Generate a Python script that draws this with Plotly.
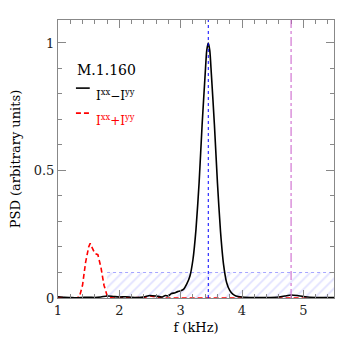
import plotly.graph_objects as go

# data
f_diff = [1.0, 1.1, 1.2, 1.3, 1.4, 1.5, 1.6, 1.7, 1.8, 1.9, 2.0, 2.1, 2.2, 2.3, 2.4, 2.5,
          2.6, 2.7, 2.75, 2.8, 2.85, 2.9, 2.95, 3.0, 3.05, 3.1, 3.15, 3.2, 3.25, 3.3,
          3.35, 3.4, 3.425, 3.45, 3.475, 3.5, 3.55, 3.6, 3.65, 3.7, 3.75, 3.8, 3.85, 3.9,
          4.0, 4.2, 4.4, 4.6, 4.7, 4.8, 4.9, 5.0, 5.2, 5.4, 5.5]
psd_diff = [0.005, 0.003, 0.002, 0.001, 0.002, 0.003, 0.002, 0.004, 0.008, 0.006, 0.004,
            0.005, 0.003, 0.002, 0.004, 0.010, 0.008, 0.004, 0.010, 0.008, 0.018, 0.020,
            0.025, 0.028, 0.035, 0.055, 0.085, 0.15, 0.27, 0.45, 0.68, 0.88, 0.97, 1.0,
            0.97, 0.88, 0.68, 0.45, 0.26, 0.13, 0.06, 0.03, 0.015, 0.008, 0.004, 0.002,
            0.002, 0.004, 0.008, 0.012, 0.010, 0.006, 0.002, 0.002, 0.002]

f_sum = [1.0, 1.1, 1.2, 1.3, 1.35, 1.4, 1.45, 1.5, 1.525, 1.55, 1.6, 1.65, 1.7, 1.75,
         1.8, 1.85, 1.9, 2.0, 2.4, 2.5, 2.6, 2.7, 3.0, 4.0, 5.0, 5.5]
psd_sum = [0.002, 0.001, 0.0, 0.0, 0.005, 0.05, 0.14, 0.20, 0.214, 0.20, 0.175, 0.17,
           0.12, 0.05, 0.01, 0.002, 0.0, 0.0, 0.002, 0.008, 0.003, 0.0, 0.0, 0.0, 0.0, 0.0]

band_f = [1.8, 5.5]      # hatched noise band
band_level = 0.1
f_peak = 3.45            # blue dotted line
f_mark = 4.8             # magenta dash-dot line

label = "M.1.160"
name_diff = "I<sup>xx</sup>\u2212I<sup>yy</sup>"
name_sum = "I<sup>xx</sup>+I<sup>yy</sup>"

FONT = "DejaVu Serif"
GREY = "#888888"

fig = go.Figure()

# hatched band
fig.add_trace(go.Scatter(
    x=[band_f[0], band_f[1], band_f[1], band_f[0], band_f[0]],
    y=[0, 0, band_level, band_level, 0],
    mode="lines", fill="toself", line=dict(width=0),
    fillcolor="rgba(0,0,0,0)",
    fillpattern=dict(shape="/", fgcolor="rgba(120,120,255,0.45)", bgcolor="rgba(0,0,0,0)",
                     size=7, solidity=0.25),
    hoverinfo="skip", showlegend=False))
fig.add_trace(go.Scatter(
    x=band_f, y=[band_level, band_level], mode="lines",
    line=dict(color="rgba(130,130,255,0.7)", width=1, dash="dot"),
    showlegend=False))

fig.add_trace(go.Scatter(x=f_sum, y=psd_sum, mode="lines",
                         line=dict(color="red", width=1.6, dash="5px,3px"), showlegend=False))
fig.add_trace(go.Scatter(x=f_diff, y=psd_diff, mode="lines", line_shape="spline",
                         line=dict(color="black", width=1.6, smoothing=0.6), showlegend=False))

fig.add_shape(type="line", x0=f_peak, x1=f_peak, y0=0, y1=1, yref="paper",
              line=dict(color="blue", width=1, dash="dot"))
fig.add_shape(type="line", x0=f_mark, x1=f_mark, y0=0, y1=1, yref="paper",
              line=dict(color="rgb(200,90,200)", width=1, dash="dashdot"))

# legend drawn by hand
fig.add_shape(type="line", xref="paper", yref="paper", x0=0.065, x1=0.115, y0=0.755, y1=0.755,
              line=dict(color="black", width=1.6))
fig.add_shape(type="line", xref="paper", yref="paper", x0=0.065, x1=0.12, y0=0.665, y1=0.665,
              line=dict(color="red", width=1.6, dash="5px,3px"))
fig.add_annotation(x=0.06, y=0.855, xref="paper", yref="paper", text=label, showarrow=False,
                   xanchor="left", font=dict(family=FONT, size=14, color="black"))
fig.add_annotation(x=0.13, y=0.765, xref="paper", yref="paper", text=name_diff, showarrow=False,
                   xanchor="left", font=dict(family=FONT, size=12, color="black"))
fig.add_annotation(x=0.13, y=0.675, xref="paper", yref="paper", text=name_sum, showarrow=False,
                   xanchor="left", font=dict(family=FONT, size=12, color="red"))

axis_common = dict(showgrid=False, zeroline=False, showline=True, linecolor=GREY, linewidth=1,
                   mirror="ticks", ticks="inside", tickcolor=GREY, ticklen=8, automargin=False,
                   tickfont=dict(family=FONT, size=13, color="#222222"))
fig.update_xaxes(range=[1, 5.5], dtick=1, tick0=1,
                 minor=dict(dtick=0.2, ticks="inside", ticklen=4, tickcolor=GREY),
                 title=dict(text="f (kHz)", font=dict(family=FONT, size=13), standoff=6),
                 **axis_common)
fig.update_yaxes(range=[0, 1.09], dtick=0.5, tick0=0,
                 minor=dict(dtick=0.1, ticks="inside", ticklen=4, tickcolor=GREY),
                 title=dict(text="PSD (arbitrary units)", font=dict(family=FONT, size=13), standoff=12),
                 **axis_common)

fig.update_layout(width=346, height=346, margin=dict(l=50, r=20, t=12, b=56),
                  plot_bgcolor="white", paper_bgcolor="white",
                  font=dict(family=FONT, color="black"))

fig.write_html("out.html")
